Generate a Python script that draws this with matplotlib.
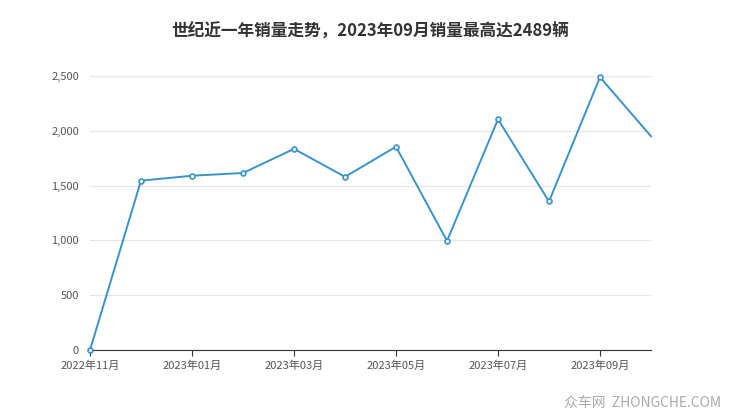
import matplotlib
matplotlib.use("Agg")
import matplotlib.pyplot as plt
from matplotlib.ticker import FuncFormatter

plt.rcParams['font.family'] = ['Noto Sans CJK SC', 'DejaVu Sans']

months = ["2022年11月", "2022年12月", "2023年01月", "2023年02月", "2023年03月", "2023年04月",
          "2023年05月", "2023年06月", "2023年07月", "2023年08月", "2023年09月", "2023年10月"]
sales = [0, 1545, 1590, 1615, 1835, 1580, 1855, 995, 2105, 1355, 2489, 1950]
yticks = [0, 500, 1000, 1500, 2000, 2500]

fig = plt.figure(figsize=(7.4, 4.17), dpi=100)
ax = fig.add_axes([90 / 740, 67 / 417, 561 / 740, 274 / 417])
x = list(range(len(months)))
ax.plot(x, sales, color="#3a93c6", lw=1.4, marker="o", ms=3.5,
        markerfacecolor="white", markeredgecolor="#3a93c6", markeredgewidth=1.2,
        markevery=list(range(len(months) - 1)), clip_on=False, zorder=3)
ax.set_xlim(0, len(months) - 1)
ax.set_ylim(0, 2500)
ax.set_yticks(yticks)
ax.yaxis.set_major_formatter(FuncFormatter(lambda v, p: f"{int(v):,}"))
ax.set_xticks(x[::2])
ax.set_xticklabels(months[::2])
ax.grid(axis="y", color="#e6e6e6", lw=0.8)
for s in ["top", "right", "left"]:
    ax.spines[s].set_visible(False)
ax.spines["bottom"].set_color("#333333")
ax.tick_params(axis="y", length=0, labelsize=8, colors="#555555", pad=8)
ax.tick_params(axis="x", length=4, labelsize=8, colors="#555555", color="#333333")

fig.text(0.5, 1 - 32 / 417, "世纪近一年销量走势，2023年09月销量最高达2489辆",
         ha="center", va="center", fontsize=12, fontweight="bold", color="#333333")
fig.text(0.975, 0.035, "众车网  ZHONGCHE.COM", ha="right", va="center",
         fontsize=10, color="#aaaaaa")
fig.savefig("out.png", dpi=100)
